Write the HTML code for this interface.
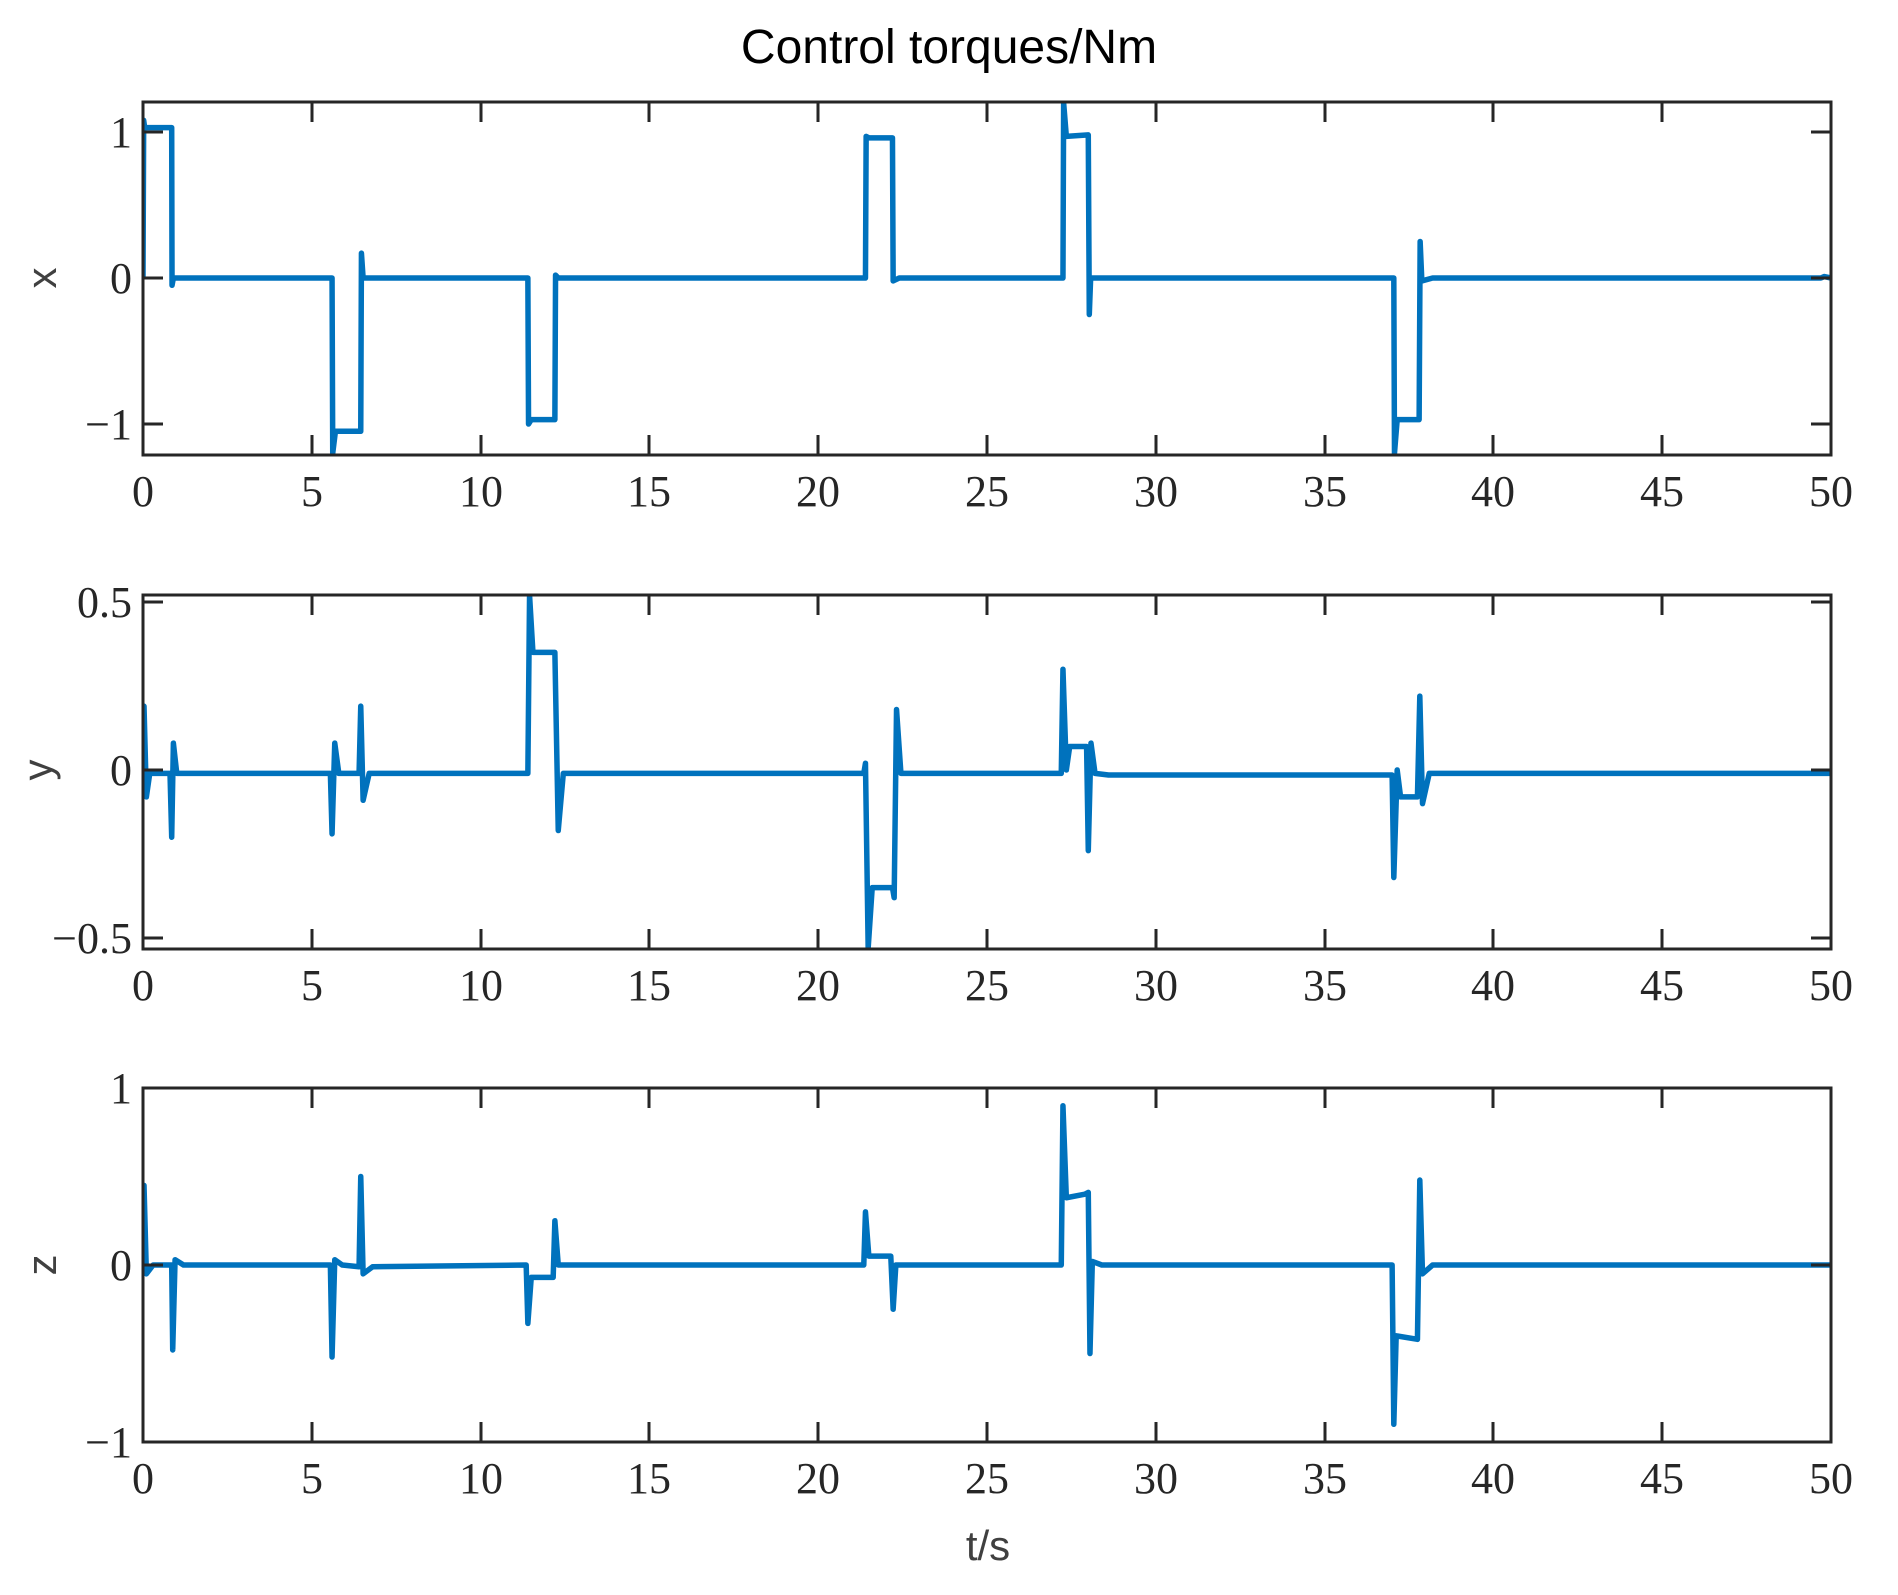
<!DOCTYPE html>
<html><head><meta charset="utf-8"><style>
body{margin:0;background:#fff}
svg{display:block}
.tk{font-family:"Liberation Serif",serif;font-size:44px;fill:#262626}
.lb{font-family:"Liberation Sans",sans-serif;font-size:42px;fill:#404040}
.ln{fill:none;stroke:#0072BD;stroke-width:5.5;vector-effect:non-scaling-stroke;stroke-linejoin:round}
.ax{fill:none;stroke:#262626;stroke-width:3}
</style></head><body>
<svg width="1898" height="1595" viewBox="0 0 1898 1595" xmlns="http://www.w3.org/2000/svg">
<defs>
<clipPath id="c1"><rect x="143" y="102" width="1688" height="353"/></clipPath>
<clipPath id="c2"><rect x="143" y="595" width="1688" height="354"/></clipPath>
<clipPath id="c3"><rect x="143" y="1088" width="1688" height="354"/></clipPath>
</defs>
<text x="949" y="63" text-anchor="middle" font-family="Liberation Sans, sans-serif" font-size="48" fill="#000">Control torques/Nm</text>

<g clip-path="url(#c1)"><g transform="translate(143,278) scale(33.76,-146)">
<path class="ln" d="M0,0 L0.02,1.08 L0.05,1.03 L0.85,1.03 L0.86,-0.05 L0.9,0 L5.6,0 L5.62,-1.2 L5.7,-1.05 L6.45,-1.05 L6.47,0.17 L6.52,0 L11.4,0 L11.42,-1.0 L11.5,-0.97 L12.2,-0.97 L12.22,0.02 L12.3,0 L21.4,0 L21.42,0.97 L21.5,0.96 L22.2,0.96 L22.22,-0.02 L22.4,0 L27.25,0 L27.27,1.2 L27.35,0.97 L28.0,0.98 L28.03,-0.25 L28.07,0 L37.05,0 L37.07,-1.2 L37.15,-0.97 L37.8,-0.97 L37.83,0.25 L37.88,-0.02 L38.2,0 L49.7,0 L49.8,0.01 L50,0"/>
</g></g>
<rect class="ax" x="143" y="102" width="1688" height="353"/>
<g class="ax">
<path d="M143,132h20M143,278h20M143,424h20M1831,132h-20M1831,278h-20M1831,424h-20"/>
<path d="M143,455v-20M312,455v-20M481,455v-20M649,455v-20M818,455v-20M987,455v-20M1156,455v-20M1325,455v-20M1493,455v-20M1662,455v-20M1831,455v-20M143,102v20M312,102v20M481,102v20M649,102v20M818,102v20M987,102v20M1156,102v20M1325,102v20M1493,102v20M1662,102v20M1831,102v20"/>
</g>
<g class="tk" text-anchor="end"><text x="132" y="147">1</text><text x="132" y="293">0</text><text x="132" y="439">−1</text></g>
<g class="tk" text-anchor="middle"><text x="143" y="506">0</text><text x="312" y="506">5</text><text x="481" y="506">10</text><text x="649" y="506">15</text><text x="818" y="506">20</text><text x="987" y="506">25</text><text x="1156" y="506">30</text><text x="1325" y="506">35</text><text x="1493" y="506">40</text><text x="1662" y="506">45</text><text x="1831" y="506">50</text></g>
<text class="lb" transform="translate(56,278) rotate(-90)" text-anchor="middle">x</text>

<g clip-path="url(#c2)"><g transform="translate(143,770) scale(33.76,-336)">
<path class="ln" d="M0,0 L0.03,0.19 L0.1,-0.08 L0.2,-0.01 L0.8,-0.01 L0.85,-0.2 L0.9,0.08 L1.0,-0.01 L5.55,-0.01 L5.6,-0.19 L5.68,0.08 L5.8,-0.01 L6.4,-0.01 L6.45,0.19 L6.52,-0.09 L6.7,-0.01 L11.4,-0.01 L11.45,0.52 L11.55,0.35 L12.2,0.35 L12.3,-0.18 L12.45,-0.01 L21.35,-0.01 L21.4,0.02 L21.48,-0.53 L21.6,-0.35 L22.2,-0.35 L22.25,-0.38 L22.32,0.18 L22.45,-0.01 L27.2,-0.01 L27.25,0.3 L27.35,0.0 L27.45,0.07 L27.95,0.07 L28.0,-0.24 L28.08,0.08 L28.2,-0.01 L28.6,-0.015 L37.0,-0.015 L37.05,-0.32 L37.15,0.0 L37.25,-0.08 L37.75,-0.08 L37.82,0.22 L37.9,-0.1 L38.1,-0.01 L50,-0.01"/>
</g></g>
<rect class="ax" x="143" y="595" width="1688" height="354"/>
<g class="ax">
<path d="M143,602h20M143,770h20M143,938h20M1831,602h-20M1831,770h-20M1831,938h-20"/>
<path d="M143,949v-20M312,949v-20M481,949v-20M649,949v-20M818,949v-20M987,949v-20M1156,949v-20M1325,949v-20M1493,949v-20M1662,949v-20M1831,949v-20M143,595v20M312,595v20M481,595v20M649,595v20M818,595v20M987,595v20M1156,595v20M1325,595v20M1493,595v20M1662,595v20M1831,595v20"/>
</g>
<g class="tk" text-anchor="end"><text x="132" y="617">0.5</text><text x="132" y="785">0</text><text x="132" y="953">−0.5</text></g>
<g class="tk" text-anchor="middle"><text x="143" y="1000">0</text><text x="312" y="1000">5</text><text x="481" y="1000">10</text><text x="649" y="1000">15</text><text x="818" y="1000">20</text><text x="987" y="1000">25</text><text x="1156" y="1000">30</text><text x="1325" y="1000">35</text><text x="1493" y="1000">40</text><text x="1662" y="1000">45</text><text x="1831" y="1000">50</text></g>
<text class="lb" transform="translate(52,770) rotate(-90)" text-anchor="middle">y</text>

<g clip-path="url(#c3)"><g transform="translate(143,1265) scale(33.76,-177)">
<path class="ln" d="M0,0 L0.03,0.45 L0.1,-0.05 L0.3,0 L0.85,0 L0.88,-0.48 L0.95,0.03 L1.2,0 L5.55,0 L5.6,-0.52 L5.68,0.03 L5.9,0 L6.4,-0.01 L6.45,0.5 L6.52,-0.05 L6.8,-0.01 L11.35,0 L11.4,-0.33 L11.5,-0.07 L12.15,-0.07 L12.2,0.25 L12.3,0 L21.35,0 L21.4,0.3 L21.5,0.05 L22.15,0.05 L22.22,-0.25 L22.3,0 L27.2,0 L27.25,0.9 L27.35,0.38 L27.9,0.4 L28.0,0.41 L28.05,-0.5 L28.12,0.02 L28.4,0 L37.0,0 L37.05,-0.9 L37.12,-0.4 L37.75,-0.42 L37.82,0.48 L37.9,-0.05 L38.2,0 L50,0"/>
</g></g>
<rect class="ax" x="143" y="1088" width="1688" height="354"/>
<g class="ax">
<path d="M143,1088h20M143,1265h20M143,1442h20M1831,1088h-20M1831,1265h-20M1831,1442h-20"/>
<path d="M143,1442v-20M312,1442v-20M481,1442v-20M649,1442v-20M818,1442v-20M987,1442v-20M1156,1442v-20M1325,1442v-20M1493,1442v-20M1662,1442v-20M1831,1442v-20M143,1088v20M312,1088v20M481,1088v20M649,1088v20M818,1088v20M987,1088v20M1156,1088v20M1325,1088v20M1493,1088v20M1662,1088v20M1831,1088v20"/>
</g>
<g class="tk" text-anchor="end"><text x="132" y="1103">1</text><text x="132" y="1280">0</text><text x="132" y="1457">−1</text></g>
<g class="tk" text-anchor="middle"><text x="143" y="1493">0</text><text x="312" y="1493">5</text><text x="481" y="1493">10</text><text x="649" y="1493">15</text><text x="818" y="1493">20</text><text x="987" y="1493">25</text><text x="1156" y="1493">30</text><text x="1325" y="1493">35</text><text x="1493" y="1493">40</text><text x="1662" y="1493">45</text><text x="1831" y="1493">50</text></g>
<text class="lb" transform="translate(56,1265) rotate(-90)" text-anchor="middle">z</text>
<text class="lb" x="988" y="1560" text-anchor="middle">t/s</text>
</svg>
</body></html>
